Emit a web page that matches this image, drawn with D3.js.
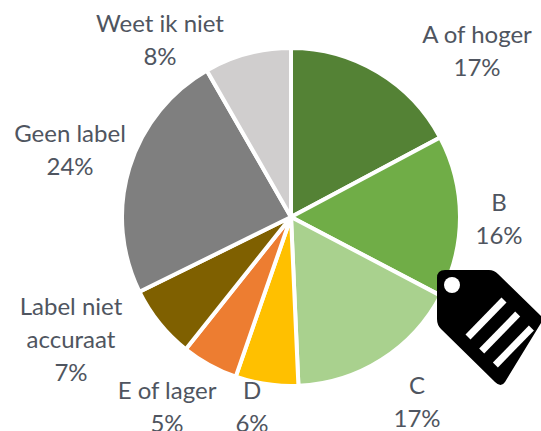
<!DOCTYPE html>
<html>
<head>
<meta charset="utf-8">
<script src="https://cdn.jsdelivr.net/npm/d3@7/dist/d3.min.js"></script>
<style>
html,body{margin:0;padding:0;background:#fff;overflow:hidden}
text{font-family:Lato,"Open Sans",sans-serif;font-size:24px;fill:#4f5560;text-anchor:middle}
</style>
</head>
<body>
<svg id="chart" width="541" height="431"></svg>
<script>
const categories = ["A of hoger","B","C","D","E of lager","Label niet accuraat","Geen label","Weet ik niet"];
const values = [17.2,15.5,16.6,6.0,5.4,7.0,24.0,8.3];
const percentLabels = ["17%","16%","17%","6%","5%","7%","24%","8%"];
const colors = ["#548235","#70ad47","#a9d18e","#ffc000","#ed7d31","#7f6000","#7f7f7f","#d0cece"];
const labelLines = [["A of hoger"],["B"],["C"],["D"],["E of lager"],["Label niet","accuraat"],["Geen label"],["Weet ik niet"]];
const labelAnchors = [[477,43],[499,211],[417,394],[252,399],[167,399],[71,315],[70,142],[160,32]];

const svg = d3.select("#chart");
const cx = 291, cy = 217, radius = 169, lineHeight = 33;

const pie = d3.pie().sort(null).value(d => d)(values);
const arc = d3.arc().innerRadius(0).outerRadius(radius);

svg.append("g").attr("transform", `translate(${cx},${cy})`)
  .selectAll("path").data(pie).join("path")
  .attr("d", arc)
  .attr("fill", (d,i) => colors[i])
  .attr("stroke", "#fff")
  .attr("stroke-width", 4)
  .attr("stroke-linejoin", "round");

const labels = svg.append("g").selectAll("text").data(categories).join("text")
  .attr("transform", (d,i) => `translate(${labelAnchors[i][0]},${labelAnchors[i][1]})`);
labels.each(function(d,i){
  const t = d3.select(this);
  labelLines[i].concat(percentLabels[i]).forEach((s,j) => {
    t.append("tspan").attr("x",0).attr("y",j*lineHeight).text(s);
  });
});

// tag icon
const tag = svg.append("g");
tag.append("path")
  .attr("d","M445 270 L489 270 Q494 270 498 274 L540 315 Q544 319 541 323 L505 382 Q501 388 495 382 L441 329 Q437 325 437 319 L437 278 Q437 270 445 270 Z")
  .attr("fill","#000");
tag.append("circle").attr("cx",452).attr("cy",285).attr("r",8).attr("fill","#fff");
d3.range(3).forEach(i => {
  tag.append("line")
    .attr("x1",468+i*13.7).attr("y1",337+i*14)
    .attr("x2",504+i*13.7).attr("y2",300+i*14)
    .attr("stroke","#fff").attr("stroke-width",7);
});
</script>
</body>
</html>
